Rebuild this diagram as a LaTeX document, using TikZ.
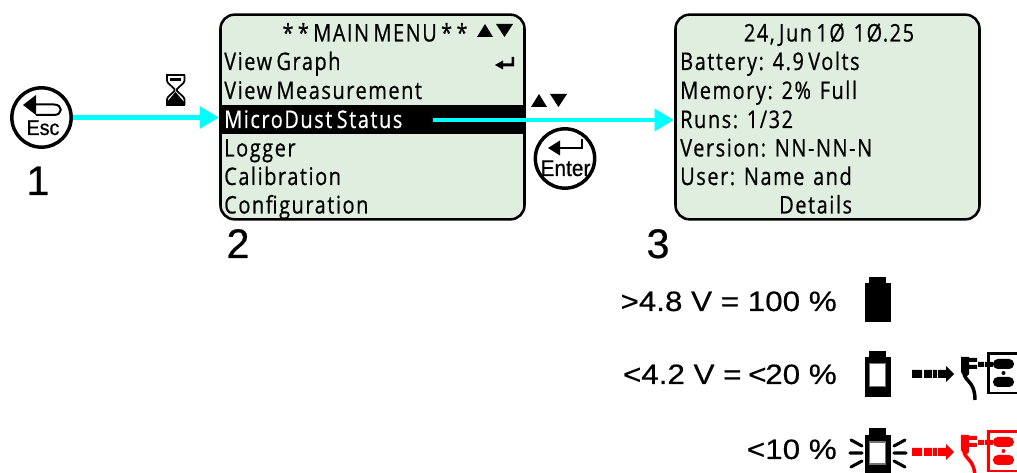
\documentclass[tikz,border=0pt]{standalone}
\usepackage{fontspec}
\usetikzlibrary{arrows.meta,calc}
\setmainfont{Liberation Sans}
\newfontfamily\lcdfont[FakeStretch=0.82,LetterSpace=6.5,WordSpace=0.65,FakeBold=0.6]{Open Sans}
\newfontfamily\labfont[FakeStretch=1.12,FakeBold=0.5]{Liberation Sans}
\newfontfamily\numfont[FakeBold=0.5]{Liberation Sans}
\newfontfamily\keyfont[FakeStretch=0.92,FakeBold=0.7]{Liberation Sans}
\definecolor{lcdbg}{HTML}{E0EEE0}
\definecolor{flow}{HTML}{00FFFF}
\tikzset{
  lcdbox/.style={draw=black,line width=1.9pt,fill=lcdbg,rounded corners=10.5pt,minimum width=228pt,minimum height=153.5pt,inner sep=0pt},
  lcdline/.style={anchor=base west,inner sep=0pt,font=\fontsize{18.2}{19}\lcdfont},
  lcdmid/.style={anchor=base,inner sep=0pt,font=\fontsize{18.2}{19}\lcdfont},
  stepnum/.style={anchor=base,inner sep=0pt,font=\fontsize{31}{32}\numfont},
  vlabel/.style={anchor=base east,inner sep=0pt,font=\fontsize{21}{22}\labfont},
  keyring/.style={circle,draw=black,line width=2.6pt,fill=white,minimum size=44.5pt,inner sep=0pt},
  keytext/.style={anchor=base,inner sep=0pt,font=\fontsize{16}{17}\keyfont},
  flowline/.style={draw=flow,line width=3.7pt,-{Triangle[length=14.5pt,width=16pt]}},
}
\newcommand{\updown}[2]{%
  \fill ($(#1,#2)+(0,13)$) -- ++(8,-13) -- ++(8,13) -- cycle;
  \fill ($(#1,#2)+(19,0)$) -- ++(17,0) -- ++(-8.5,13) -- cycle;}
\newcommand{\dasharrow}[2]{%
  \begin{scope}[shift={(0,#1)},#2]
    \fill (912,370) rectangle (922,378) (924,370) rectangle (932,378) (933,370) rectangle (937,378);
    \fill (938,370) -- (946,370) -- (946,366) -- (954,374) -- (946,382) -- (946,378) -- (938,378) -- cycle;
  \end{scope}}
\newcommand{\plugicon}[2]{%
  \begin{scope}[shift={(0,#1)},#2]
    \fill (961,357) -- (969,357) -- (969,358) -- (977,358) -- (977,362) -- (969,362) -- (969,365) -- (977,365) -- (977,369) -- (969,369) -- (969,374) -- (965,378) -- (961,372) -- cycle;
    \draw[line width=2.6pt,fill=none] (964,374) .. controls (966,382) and (975,382) .. (975,400);
    \fill (978,362) rectangle (984,367) (985,362) rectangle (993,367);
    \draw[line width=2.2pt,fill=none] (1030,353.5) -- (988.5,353.5) -- (988.5,393) -- (1030,393);
    \fill[rounded corners=3.6pt] (993,359) rectangle (1014,369) (993,377) rectangle (1014,387);
    \fill (1003.5,373) circle (1.5pt);
  \end{scope}}
\newcommand{\batterybody}[3]{%
  \fill (865,#1) rectangle (891,#2);
  \fill (869,#3) rectangle (886,#1);}
\begin{document}
\begin{tikzpicture}[x=0.75pt,y=-0.75pt]
\clip (0,0) rectangle (1017,473);
\fill[white] (0,0) rectangle (1017,473);

% screens
\node[lcdbox] (menu) at (372.5,117) {};
\node[lcdbox] (status) at (827.5,117) {};
\fill (menu.west |- 0,105) rectangle (menu.east |- 0,134);

% menu text
\node[lcdmid] (mtitle) at (375,41.5) {* * MAIN MENU * *};
\node[lcdline] (m1) at (224,70) {View Graph};
\node[lcdline] (m2) at (224,99) {View Measurement};
\node[lcdline,text=white] (m3) at (224,128) {MicroDust Status};
\node[lcdline] (m4) at (224,156.5) {Logger};
\node[lcdline] (m5) at (224,185) {Calibration};
\node[lcdline] (m6) at (224,213.5) {Configuration};
\updown{477}{24}
\fill (495,65) -- (503,60.5) -- (503,63.5) -- (511.5,63.5) -- (511.5,57) -- (514,57) -- (514,66.5) -- (503,66.5) -- (503,69.5) -- cycle;

% status text
\node[lcdmid] (stitle) at (829,41.5) {24, Jun 1Ø\ \ 1Ø.25};
\node[lcdline] (s1) at (680,70) {Battery:\ \ 4.9\ Volts};
\node[lcdline] (s2) at (680,99) {Memory:\ \ 2\%\ \ Full};
\node[lcdline] (s3) at (680,128) {Runs:\ \ 1/32};
\node[lcdline] (s4) at (680,156.5) {Version:\ \ NN-NN-N};
\node[lcdline] (s5) at (680,185) {User:\ \ Name\ \ and};
\node[lcdline] (s6) at (779,213.5) {Details};

% keys
\node[keyring] (esc) at (41.5,117.5) {};
\fill (23,105) -- (36,95) -- (36,115) -- cycle;
\draw[line width=1.5pt] (36,104.5) -- (54,104.5) .. controls (63,104.5) and (63,115) .. (54,115) -- (36,115);
\node[keytext] (esclab) at (43,135) {Esc};
\node[keyring] (enter) at (565,158.5) {};
\fill (548,148) -- (560,140.5) -- (560,155.5) -- cycle;
\draw[line width=1.5pt] (560,148) -- (582,148) -- (582,139);
\node[keytext,font=\fontsize{17}{18}\keyfont] (enterlab) at (565.5,176) {Enter};

% flow connectors
\coordinate (m3end) at (433,120);
\draw[flowline] (esc.east) -- (esc.east -| menu.west);
\draw[flowline] (m3end) -- (m3end -| status.west);

% hourglass
\draw[line width=1.3pt] (166,75) -- (185,75) (166,105) -- (185,105);
\draw[line width=1.3pt,rounded corners=1pt] (167,75) -- (167,82) -- (175.5,90) -- (167,98) -- (167,105);
\draw[line width=1.3pt,rounded corners=1pt] (184.5,75) -- (184.5,82) -- (176,90) -- (184.5,98) -- (184.5,105);
\fill (175.5,92) -- (184,102) -- (184,105) -- (167,105) -- (167,102) -- cycle;
\fill (170,78) -- (181,78) -- (181,81) -- (170,81) -- cycle;

\updown{531}{94}

% step numbers
\node[stepnum] (n1) at (38,195) {1};
\node[stepnum] (n2) at (238,258) {2};
\node[stepnum] (n3) at (658,258) {3};

% battery levels
\node[vlabel] (v1) at (837,311) {>4.8 V = 100 \%};
\node[vlabel] (v2) at (837,384) {<4.2 V =\kern-1.5pt\ <\kern-1pt20 \%};
\node[vlabel] (v3) at (837,459) {<10 \%};

\batterybody{283}{322.5}{277}
\batterybody{357}{397}{351}
\fill[white,draw=black!55,line width=0.8pt] (869.5,363.5) rectangle (885.5,386.5);
\batterybody{435}{473}{428.5}
\fill[white,draw=black!55,line width=0.8pt] (869.5,442) rectangle (885.5,464);
\draw[line width=2.3pt,line cap=round] (851,440) -- (862,446) (850,453) -- (862,453) (851,467) -- (862,461)
  (905,440) -- (894,446) (906,453) -- (894,453) (905,467) -- (894,461);

\dasharrow{0}{black}
\plugicon{0}{black}
\dasharrow{78}{red}
\plugicon{78}{red}
\end{tikzpicture}
\end{document}
